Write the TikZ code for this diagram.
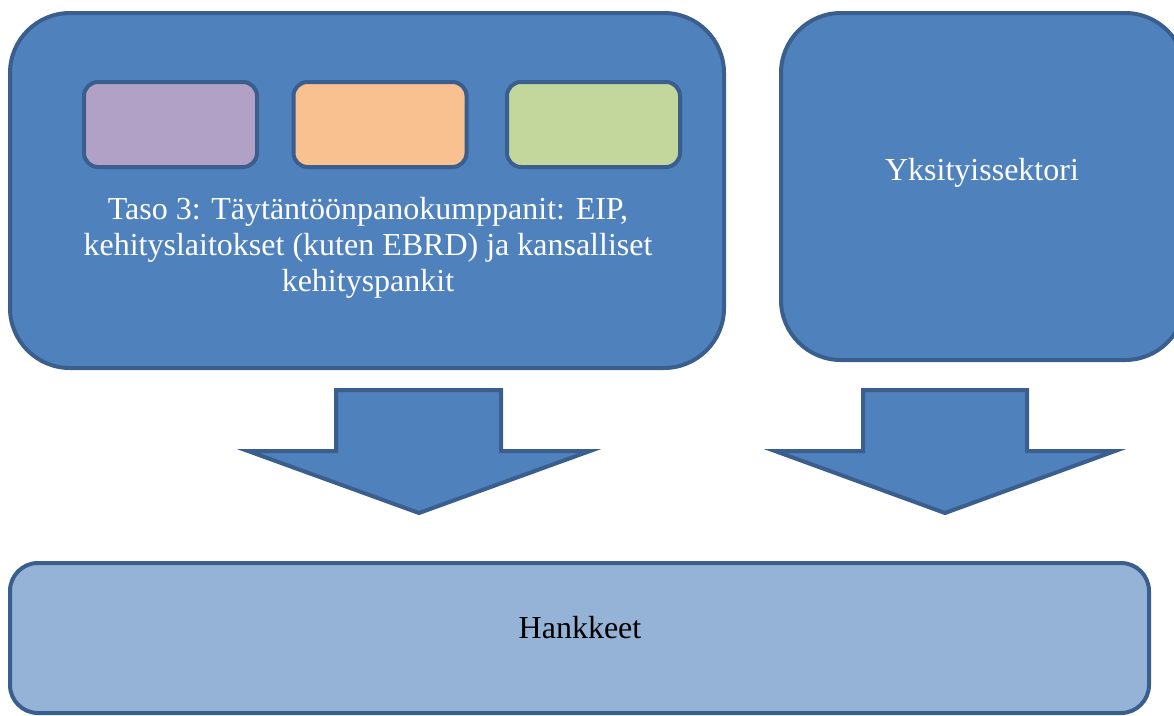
\documentclass[tikz,border=0pt]{standalone}
\usepackage{fontspec}
\setmainfont{Liberation Serif}
\definecolor{mainblue}{HTML}{4F81BD}
\definecolor{edgeblue}{HTML}{3A5F8E}
\definecolor{lightblue}{HTML}{95B3D7}
\definecolor{lilac}{HTML}{B2A1C7}
\definecolor{peach}{HTML}{F9C090}
\definecolor{sage}{HTML}{C3D69B}
\begin{document}
\begin{tikzpicture}[x=1pt,y=-1pt,
  bigbox/.style={draw=edgeblue, line width=4pt, fill=mainblue, rounded corners=60pt, inner sep=0pt},
  chip/.style={draw=edgeblue, line width=4pt, rounded corners=14pt, inner sep=0pt, minimum width=173pt, minimum height=85pt},
  basebox/.style={draw=edgeblue, line width=4pt, fill=lightblue, rounded corners=28pt, inner sep=0pt},
  label/.style={inner sep=0pt, font=\fontsize{32}{36}\selectfont, align=center},
  bigarrow/.style={draw=edgeblue, line width=4pt, fill=mainblue, line join=miter}
]
\useasboundingbox (0,0) rectangle (1174,715);
\clip (0,0) rectangle (1174,715);

\node[bigbox, minimum width=714pt, minimum height=355pt] (taso) at (367,190.5) {};
\node[chip, fill=lilac] (c1) at (170.5,124.5) {};
\node[chip, fill=peach] (c2) at (380,124.5) {};
\node[chip, fill=sage] (c3) at (593.5,124.5) {};
\node[label, text=white] (tasotext) at (368,248)
  {Taso 3: Täytäntöönpanokumppanit: EIP,\\kehityslaitokset (kuten EBRD) ja kansalliset\\kehityspankit};

\node[bigbox, minimum width=404pt, minimum height=347pt] (yks) at (983,186.5) {};
\node[label, text=white] (ykstext) at (982,173) {Yksityissektori};

\node[basebox, minimum width=1139pt, minimum height=150pt] (hank) at (579.5,638) {};
\node[label] (hanktext) at (580,628) {Hankkeet};

\draw[bigarrow] (336,390) -- (501,390) -- (501,451) -- (590,451) -- (419,513) -- (248,451) -- (336,451) -- cycle;
\draw[bigarrow] (863,390) -- (1027,390) -- (1027,451) -- (1115,451) -- (945,513) -- (775,451) -- (863,451) -- cycle;
\end{tikzpicture}
\end{document}
